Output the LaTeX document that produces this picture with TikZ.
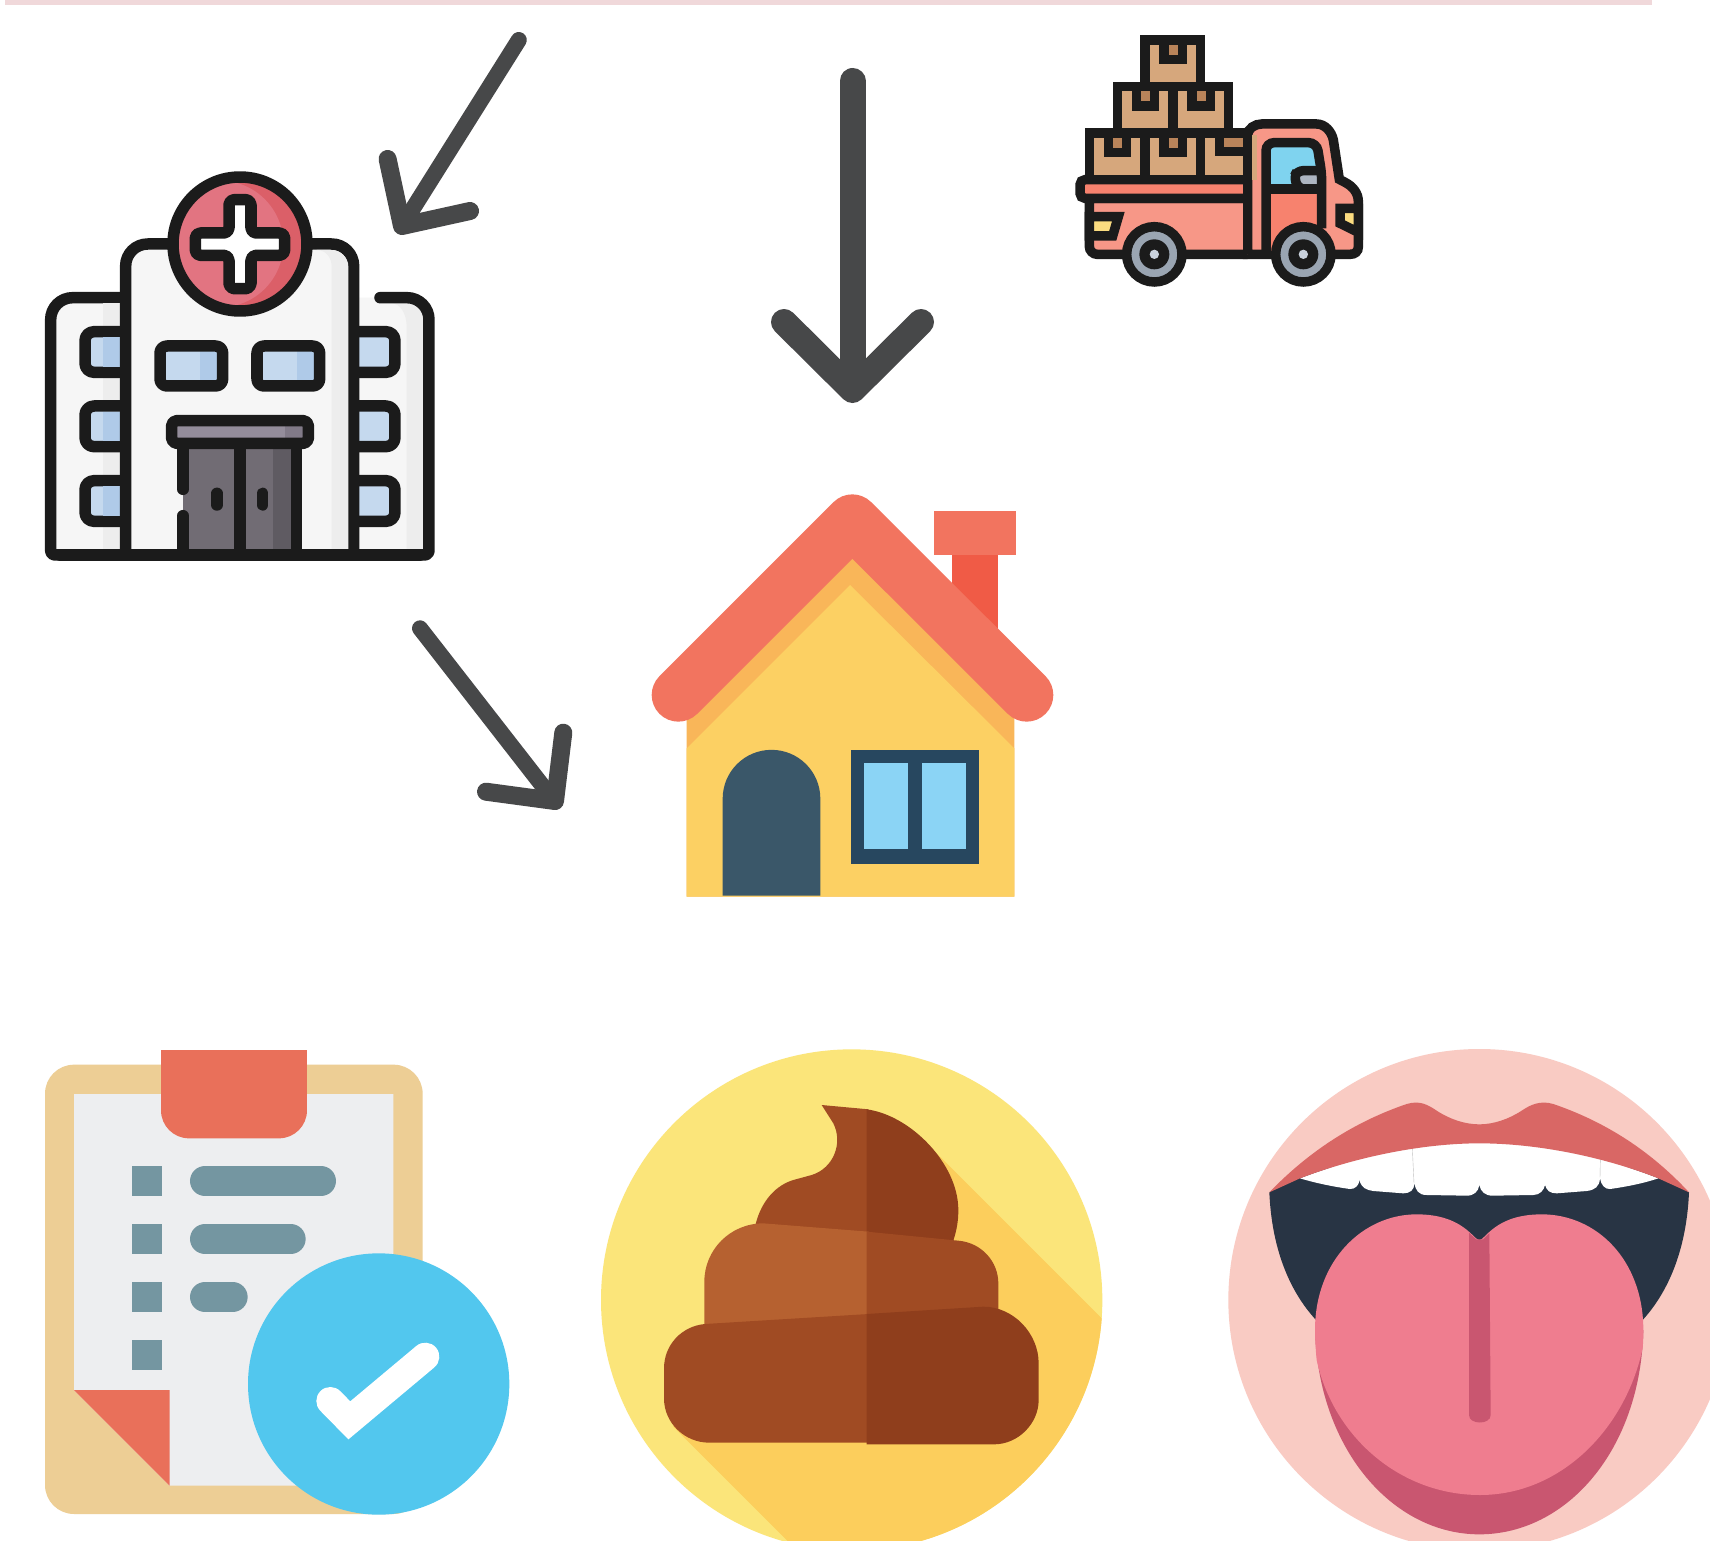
\documentclass[tikz,border=0pt]{standalone}
\definecolor{stripPink}{HTML}{F0D8DA}
\definecolor{arrowGrey}{HTML}{474849}
\definecolor{wireBlack}{HTML}{1B1B1B}
\definecolor{wallLight}{HTML}{F6F6F6}
\definecolor{wallDark}{HTML}{EDEDED}
\definecolor{glassLight}{HTML}{C5D9EE}
\definecolor{glassDark}{HTML}{AFCAE8}
\definecolor{signLight}{HTML}{E27481}
\definecolor{signDark}{HTML}{DB5F68}
\definecolor{doorLight}{HTML}{716C74}
\definecolor{doorDark}{HTML}{5F5B62}
\definecolor{canopyLight}{HTML}{948D9B}
\definecolor{canopyDark}{HTML}{817A88}
\definecolor{cardboard}{HTML}{D6A77C}
\definecolor{tape}{HTML}{B9845A}
\definecolor{truckLight}{HTML}{F79787}
\definecolor{truckDark}{HTML}{F7826E}
\definecolor{truckGlass}{HTML}{7FD3EF}
\definecolor{truckSeat}{HTML}{ADB5C1}
\definecolor{truckLamp}{HTML}{FBDC80}
\definecolor{tyreGrey}{HTML}{9AA5B2}
\definecolor{hubGrey}{HTML}{C9D1DC}
\definecolor{roofRed}{HTML}{F2745F}
\definecolor{chimneyRed}{HTML}{F05B46}
\definecolor{wallYellow}{HTML}{FCD063}
\definecolor{wallShade}{HTML}{F9B659}
\definecolor{doorBlue}{HTML}{3A5769}
\definecolor{frameBlue}{HTML}{27475F}
\definecolor{paneBlue}{HTML}{8BD4F5}
\definecolor{boardTan}{HTML}{EDCE95}
\definecolor{paperGrey}{HTML}{EDEEF0}
\definecolor{clipRed}{HTML}{E9705A}
\definecolor{listTeal}{HTML}{7496A1}
\definecolor{checkBlue}{HTML}{52C7EE}
\definecolor{discYellow}{HTML}{FBE57A}
\definecolor{discShade}{HTML}{FCCE5C}
\definecolor{pooMid}{HTML}{A04B23}
\definecolor{pooDark}{HTML}{8F3E1C}
\definecolor{pooLight}{HTML}{B66130}
\definecolor{discPink}{HTML}{F9CBC3}
\definecolor{lipRed}{HTML}{D96765}
\definecolor{mouthDark}{HTML}{283444}
\definecolor{tongueLight}{HTML}{EF7D8F}
\definecolor{tongueDark}{HTML}{C95670}
\tikzset{
    arrowline/.style={draw=arrowGrey,line cap=round,line join=round},
    hospwire/.style={draw=wireBlack,line width=11.5pt,line join=round,line cap=round},
    truckwire/.style={draw=wireBlack,line width=9.5pt,line join=miter},
    icon/.style={shift={#1},scale=0.33333}
}
\begin{document}
\begin{tikzpicture}[x=1pt,y=-1pt]
        \useasboundingbox (0,0) rectangle (1710,1541);
        \clip (0,0) rectangle (1710,1541);
        \fill[white] (0,0) rectangle (1710,1541);
        %top strip
        \fill[stripPink] (5,0) rectangle (1652,5);
        %arrows
        \draw[arrowline,line width=16pt] (518.8,40) -- (402,226);
        \draw[arrowline,line width=18pt] (387.6,159) -- (402,226) -- (470,211);
        \draw[arrowline,line width=26pt] (852.5,81) -- (852.5,385);
        \draw[arrowline,line width=26pt] (784,322) -- (852.5,390) -- (921,322);
        \draw[arrowline,line width=16pt] (420,628.3) -- (555,801.7);
        \draw[arrowline,line width=18pt] (563.3,732.7) -- (555,801) -- (486,791.7);
        %hospital
        \begin{scope}[icon={(30,160)}]
            \draw[hospwire,fill=wallLight] (287,1185) [rounded corners=4pt] -- (62,1185) [rounded corners=22pt] -- (62,413) -- (287,413);
            \fill[wallDark] (220,430) rectangle (287,1170);
            \fill[wallLight,rounded corners=22pt] (971,413) -- (1197,413) [rounded corners=4pt] -- (1197,1185) -- (971,1185) -- cycle;
            \fill[wallDark] (1130,1170) -- (1130,500) .. controls (1130,460) and (1110,430) .. (1085,430) -- (1135,430) .. controls (1165,430) and (1180,455) .. (1180,480) -- (1180,1170) -- cycle;
            \draw[hospwire] (1050,413) [rounded corners=22pt] -- (1197,413) [rounded corners=4pt] -- (1197,1185) -- (971,1185);
            %side windows
            \foreach \y in {515,738,962}{
                \draw[hospwire,fill=glassLight,rounded corners=9pt] (287,\y) -- (165,\y) -- (165,\y+122) -- (287,\y+122);
                \fill[glassDark] (220,\y+17) rectangle (287,\y+105);
                \draw[hospwire,fill=glassLight,rounded corners=9pt] (971,\y) -- (1095,\y) -- (1095,\y+122) -- (971,\y+122);
            }
            \draw[hospwire,fill=wallLight,rounded corners=22pt] (287,1185) -- (287,252) -- (971,252) -- (971,1185);
            \fill[wallDark] (905,1170) -- (905,320) .. controls (905,295) and (890,270) .. (860,270) -- (900,270) .. controls (935,270) and (955,295) .. (955,320) -- (955,1170) -- cycle;
            %front windows
            \fill[glassLight] (390,558) rectangle (510,678);
            \fill[glassDark] (510,558) rectangle (578,678);
            \draw[hospwire,rounded corners=7pt] (390,558) rectangle (578,678);
            \fill[glassLight] (681,558) rectangle (800,678);
            \fill[glassDark] (800,558) rectangle (869,678);
            \draw[hospwire,rounded corners=7pt] (681,558) rectangle (869,678);
            %doors
            \fill[doorLight] (459,850) rectangle (730,1185);
            \fill[doorDark] (730,850) rectangle (800,1185);
            \draw[hospwire] (459,850) -- (459,988);
            \draw[hospwire] (459,1067) -- (459,1185);
            \draw[hospwire] (630,850) -- (630,1185);
            \draw[hospwire] (800,850) -- (800,1185);
            \draw[hospwire] (561,1000) -- (561,1035);
            \draw[hospwire] (698,1000) -- (698,1035);
            \fill[canopyLight] (425,782) rectangle (765,850);
            \fill[canopyDark] (765,782) rectangle (835,850);
            \draw[hospwire,rounded corners=5pt] (425,782) rectangle (835,850);
            %sign
            \fill[signDark] (630,252) circle (201);
            \begin{scope}
                \clip (630,252) circle (201);
                \fill[signLight] (570,252) circle (190);
            \end{scope}
            \draw[hospwire] (630,252) circle (201);
            \draw[hospwire,fill=white,rounded corners=5pt] (597,119) -- (663,119) -- (663,219) -- (764,219) -- (764,286) -- (663,286) -- (663,386) -- (597,386) -- (597,286) -- (496,286) -- (496,219) -- (597,219) -- cycle;
            \draw[hospwire] (90,1185) -- (1170,1185);
        \end{scope}
        %truck
        \begin{scope}[icon={(1060,20)}]
            \draw[truckwire,fill=truckLight] (563,703) -- (563,345) .. controls (563,325) and (585,312) .. (605,312) -- (770,312) .. controls (795,312) and (815,335) .. (820,360) -- (838,478) -- (855,487) .. controls (880,500) and (895,520) .. (895,545) -- (895,680) .. controls (895,695) and (885,703) .. (870,703) -- cycle;
            \fill[cardboard] (577,345) rectangle (590,479);
            \draw[truckwire,fill=truckLight] (563,535) -- (88,535) [rounded corners=8pt] -- (88,703) [sharp corners] -- (563,703);
            \draw[truckwire,fill=truckDark,rounded corners=5pt] (563,479) -- (60,479) -- (60,535) -- (563,535);
            \foreach \x/\y in {255/60,172/200,339/200,88/339,255/339}{
                \fill[cardboard] (\x,\y) rectangle (\x+167,\y+140);
                \draw[truckwire,fill=tape] (\x+57,\y) -- (\x+57,\y+58) -- (\x+112,\y+58) -- (\x+112,\y);
                \draw[truckwire] (\x,\y) rectangle (\x+167,\y+140);
            }
            \fill[cardboard] (422,339) rectangle (563,479);
            \fill[tape] (478,339) rectangle (563,395);
            \draw[truckwire] (478,339) -- (478,395) -- (563,395);
            \draw[truckwire] (422,339) rectangle (563,479);
            \draw[truckwire] (563,345) -- (563,703);
            %cab door
            \fill[truckGlass] (618,368) -- (770,368) -- (785,507) -- (618,507) -- cycle;
            \fill[truckDark] (618,507) rectangle (785,703);
            \draw[truckwire,fill=truckSeat,rounded corners=6pt] (785,452) -- (712,452) -- (702,470) -- (715,507) -- (785,507);
            \draw[truckwire,rounded corners=8pt] (618,703) -- (618,368) -- (770,368) -- (785,460) -- (785,625);
            \draw[truckwire] (618,507) -- (785,507);
            %lamps
            \draw[truckwire,fill=truckLamp] (895,565) -- (840,565) -- (840,610) -- (895,637) -- cycle;
            \draw[truckwire,fill=truckLamp] (88,590) -- (175,590) -- (158,648) -- (88,648) -- cycle;
            %wheels
            \foreach \x in {283,730}{
                \draw[truckwire,fill=tyreGrey] (\x,703) circle (83);
                \fill[wireBlack] (\x,703) circle (45);
                \fill[hubGrey] (\x,703) circle (14);
            }
        \end{scope}
        %house
        \begin{scope}[icon={(640,480)}]
            \fill[chimneyRed] (936,225) rectangle (1074,460);
            \fill[roofRed] (882,93) rectangle (1128,225);
            \fill[wallShade] (140,1250) -- (140,640) -- (637,160) -- (1123,640) -- (1123,1250) -- cycle;
            \fill[wallYellow] (140,1250) -- (140,805) -- (630,315) -- (1123,805) -- (1123,1250) -- cycle;
            \draw[roofRed,line width=53.3pt,line cap=round,line join=round] (115,645) -- (637,123) -- (1160,645);
            \fill[doorBlue] (248,1247) -- (248,956) arc (180:360:146.5) -- (541,1247) -- cycle;
            \fill[frameBlue] (633,810) rectangle (1017,1152);
            \fill[paneBlue] (672,849) rectangle (804,1107);
            \fill[paneBlue] (846,849) rectangle (978,1107);
        \end{scope}
        %clipboard
        \begin{scope}[icon={(30,1030)}]
            \fill[boardTan,rounded corners=29pt] (45,104) rectangle (1178,1452);
            \fill[paperGrey] (132,192) -- (1090,192) -- (1090,1367) -- (419,1367) -- (132,1080) -- cycle;
            \fill[clipRed] (132,1080) -- (419,1080) -- (419,1367) -- cycle;
            \fill[clipRed] (393,60) [rounded corners=28pt] -- (393,325) -- (831,325) [sharp corners] -- (831,60) -- cycle;
            \foreach \y in {408,582,756,930}{
                \fill[listTeal] (306,\y) rectangle (396,\y+90);
            }
            \foreach \y/\xend in {453/873,627/782,801/608}{
                \draw[listTeal,line width=30pt,line cap=round] (525,\y) -- (\xend,\y);
            }
            \fill[checkBlue] (1046,1062) circle (392);
            \draw[white,line width=28pt,line cap=round,line join=miter] (901,1113) -- (958,1171) -- (1186,980);
        \end{scope}
        %poo
        \begin{scope}[icon={(590,1040)}]
            \fill[discYellow] (785,780) circle (752);
            \begin{scope}
                \clip (785,780) circle (752);
                \fill[discShade] (1020,320) -- (1700,1000) -- (1700,1600) -- (690,1600) -- (250,1160) -- cycle;
            \end{scope}
            \fill[pooMid] (497,552) .. controls (515,480) and (560,435) .. (610,420) -- (665,405) .. controls (730,385) and (760,310) .. (730,250) -- (695,195) -- (836,208) -- (836,580) -- cycle;
            \fill[pooDark] (830,208) .. controls (960,225) and (1105,370) .. (1105,510) .. controls (1105,545) and (1100,570) .. (1090,602) -- (830,580) -- cycle;
            \fill[pooLight] (343,855) -- (343,725) .. controls (343,630) and (420,550) .. (520,550) -- (836,575) -- (836,830) -- cycle;
            \fill[pooMid] (830,575) -- (1105,602) .. controls (1175,608) and (1225,665) .. (1225,730) -- (1225,810) -- (830,830) -- cycle;
            \fill[pooMid] (345,852) -- (836,822) -- (836,1208) -- (358,1208) .. controls (285,1208) and (222,1150) .. (222,1075) -- (222,985) .. controls (222,915) and (275,858) .. (345,852) -- cycle;
            \fill[pooDark] (830,822) -- (1180,800) .. controls (1270,800) and (1346,880) .. (1346,970) -- (1346,1080) .. controls (1346,1150) and (1285,1213) .. (1212,1213) -- (830,1213) -- cycle;
        \end{scope}
        %mouth
        \begin{scope}[icon={(1220,1040)}]
            \fill[discPink] (778,780) circle (753);
            \fill[mouthDark] (148,457) -- (240,400) -- (778,300) -- (1315,400) -- (1407,457) .. controls (1400,620) and (1350,750) .. (1268,840) -- (1200,900) -- (350,900) -- (288,840) .. controls (205,750) and (155,620) .. (148,457) -- cycle;
            \fill[white] (240,415) .. controls (290,430) and (340,440) .. (390,447) .. controls (405,448) and (418,435) .. (418,420) .. controls (425,445) and (440,450) .. (460,453) -- (550,460) .. controls (570,460) and (583,450) .. (583,430) .. controls (587,450) and (595,465) .. (620,465) -- (740,467) .. controls (762,467) and (775,455) .. (778,435) .. controls (782,455) and (795,467) .. (818,467) -- (940,465) .. controls (960,465) and (972,450) .. (975,435) .. controls (980,452) and (990,460) .. (1010,460) -- (1100,453) .. controls (1125,450) and (1138,440) .. (1140,415) .. controls (1143,435) and (1155,448) .. (1170,447) .. controls (1220,440) and (1270,430) .. (1315,415) .. controls (1150,350) and (950,305) .. (778,305) .. controls (610,305) and (410,350) .. (240,415) -- cycle;
            \draw[lightgray,line width=0.4pt] (577,325) -- (582,430);
            \draw[lightgray,line width=0.4pt] (1141,360) -- (1140,412);
            \fill[lipRed] (148,457) .. controls (280,320) and (420,240) .. (560,192) .. controls (600,180) and (625,195) .. (650,212) .. controls (690,238) and (735,253) .. (778,253) .. controls (820,253) and (865,238) .. (905,212) .. controls (930,195) and (960,180) .. (1000,192) .. controls (1140,240) and (1280,320) .. (1407,457) -- (1315,415) .. controls (1150,350) and (950,310) .. (778,310) .. controls (610,310) and (410,350) .. (240,415) -- cycle;
            \fill[tongueDark] (285,870) .. controls (295,1230) and (520,1483) .. (778,1483) .. controls (1040,1483) and (1262,1230) .. (1270,870) -- cycle;
            \fill[tongueLight] (778,600) .. controls (760,600) and (730,523) .. (590,523) .. controls (430,523) and (285,660) .. (285,870) .. controls (285,895) and (287,930) .. (290,960) .. controls (340,1190) and (540,1365) .. (780,1365) .. controls (1020,1365) and (1215,1170) .. (1268,925) .. controls (1270,900) and (1270,885) .. (1270,870) .. controls (1270,660) and (1130,523) .. (965,523) .. controls (825,523) and (796,600) .. (778,600) -- cycle;
            \fill[tongueDark] (747,578) -- (768,598) -- (790,598) -- (808,580) -- (812,1125) .. controls (812,1155) and (747,1155) .. (747,1125) -- cycle;
        \end{scope}
\end{tikzpicture}
\end{document}
